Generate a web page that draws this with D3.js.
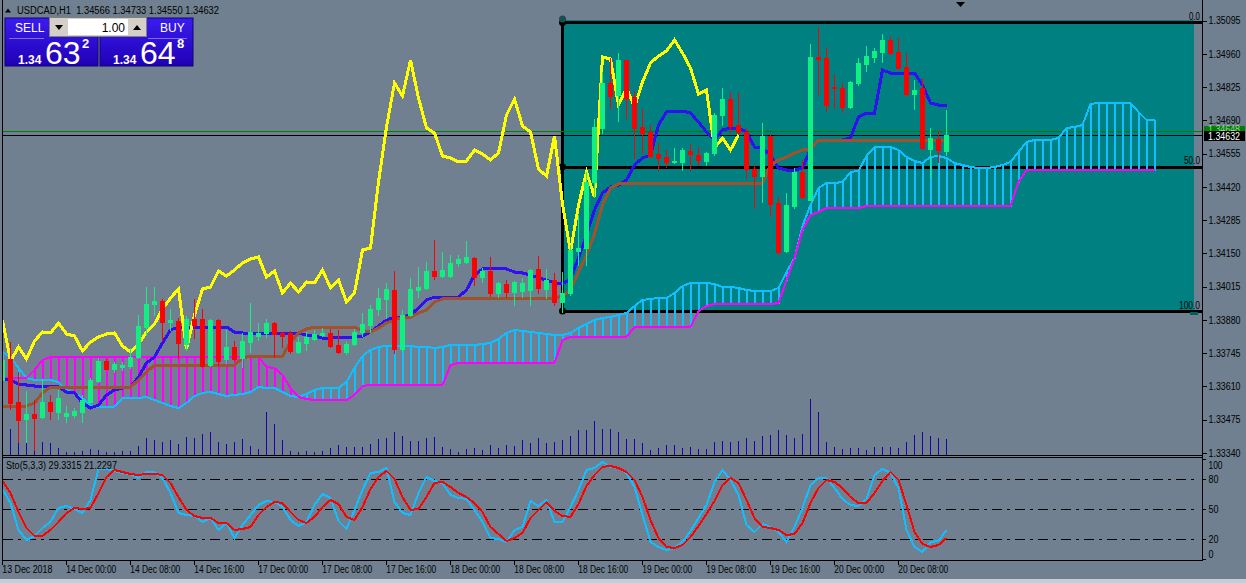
<!DOCTYPE html>
<html><head><meta charset="utf-8">
<script src="https://cdn.jsdelivr.net/npm/d3@7/dist/d3.min.js"></script>
<style>
html,body{margin:0;padding:0;background:#708090;overflow:hidden}
svg{display:block}
text{font-family:"Liberation Sans",Arial,sans-serif;font-size:10px;fill:#000}
</style></head><body>
<svg id="c" width="1246" height="583"></svg>
<script>
// ---------------- DATA ----------------
const symbolTitle = "USDCAD,H1  1.34566 1.34733 1.34550 1.34632";
const stochTitle = "Sto(5,3,3) 29.3315 21.2297";
const timeIdx = [0,8,16,24,32,40,48,56,64,72,80,88,96,104,112];
const timeLabels = ["13 Dec 2018","14 Dec 00:00","14 Dec 08:00","14 Dec 16:00","17 Dec 00:00","17 Dec 08:00","17 Dec 16:00","18 Dec 00:00","18 Dec 08:00","18 Dec 16:00","19 Dec 00:00","19 Dec 08:00","19 Dec 16:00","20 Dec 00:00","20 Dec 08:00"];
const priceTicks = [1.35095,1.34960,1.34825,1.34690,1.34555,1.34420,1.34285,1.34150,1.34015,1.33880,1.33745,1.33610,1.33475,1.33340];
const stochTicks = [100,80,50,20,0];
const stochLevels = [80,50,20];
const bidPrice = 1.34632, askPrice = 1.34648;
const fibLevels = [0,50,100];
const fibHigh = 1.35088, fibLow = 1.33916, fibStartBar = 70;
const rectTop = 1.35098, rectBottom = 1.33916, rectEndBar = 149;

const opens = [1.33636,1.33722,1.33547,1.33478,1.33498,1.33486,1.33547,1.33506,1.33490,1.33494,
1.33506,1.33547,1.33632,1.33713,1.33681,1.33689,1.33693,1.33730,1.33851,1.33945,
1.33957,1.33872,1.33876,1.33782,1.33884,1.33884,1.33697,1.33880,1.33722,1.33770,
1.33726,1.33790,1.33815,1.33827,1.33868,1.33827,1.33827,1.33750,1.33786,1.33803,
1.33819,1.33827,1.33778,1.33750,1.33782,1.33831,1.33859,1.33924,1.33965,1.34002,
1.33762,1.33900,1.34002,1.34010,1.34079,1.34058,1.34058,1.34111,1.34115,1.34132,
1.34054,1.34079,1.33989,1.34026,1.33993,1.33997,1.34002,1.34087,1.34006,1.34042,
1.33953,1.33989,1.34160,1.34172,1.34440,1.34659,1.34842,1.34793,1.34935,1.34785,
1.34663,1.34643,1.34554,1.34542,1.34521,1.34521,1.34566,1.34550,1.34525,1.34558,
1.34712,1.34777,1.34672,1.34643,1.34493,1.34464,1.34627,1.34355,1.34160,1.34343,
1.34481,1.34367,1.34948,1.34944,1.34826,1.34822,1.34745,1.34842,1.34919,1.34948,
1.34968,1.35017,1.34968,1.34907,1.34797,1.34822,1.34574,1.34615,1.34566];
const highs = [1.33750,1.33790,1.33669,1.33591,1.33555,1.33640,1.33575,1.33596,1.33531,1.33523,
1.33575,1.33644,1.33726,1.33722,1.33709,1.33709,1.33766,1.33900,1.34014,1.34014,
1.33965,1.33924,1.33888,1.33896,1.33965,1.33924,1.33884,1.33884,1.33839,1.33795,
1.33827,1.33949,1.33868,1.33884,1.33872,1.33831,1.33835,1.33811,1.33831,1.33839,
1.33847,1.33843,1.33839,1.33790,1.33843,1.33908,1.33941,1.34010,1.34030,1.34079,
1.33920,1.34050,1.34095,1.34115,1.34205,1.34156,1.34144,1.34144,1.34201,1.34136,
1.34091,1.34136,1.34034,1.34042,1.34038,1.34050,1.34087,1.34140,1.34087,1.34071,
1.34075,1.34184,1.34306,1.34481,1.34696,1.34887,1.34944,1.34964,1.34935,1.34810,
1.34737,1.34672,1.34598,1.34570,1.34578,1.34578,1.34594,1.34582,1.34562,1.34720,
1.34822,1.34806,1.34801,1.34659,1.34509,1.34680,1.34635,1.34379,1.34395,1.34497,
1.34529,1.35000,1.35069,1.34988,1.34879,1.34842,1.34850,1.34944,1.34992,1.34984,
1.35041,1.35033,1.35025,1.34964,1.34854,1.34862,1.34659,1.34647,1.34733];
const lows = [1.33596,1.33518,1.33384,1.33384,1.33352,1.33482,1.33478,1.33478,1.33466,1.33486,
1.33466,1.33543,1.33628,1.33681,1.33669,1.33677,1.33685,1.33726,1.33819,1.33900,
1.33799,1.33839,1.33726,1.33758,1.33807,1.33689,1.33693,1.33697,1.33705,1.33717,
1.33689,1.33750,1.33799,1.33811,1.33730,1.33770,1.33746,1.33746,1.33758,1.33799,
1.33815,1.33770,1.33746,1.33742,1.33778,1.33815,1.33831,1.33900,1.33888,1.33746,
1.33754,1.33896,1.33973,1.34006,1.34046,1.34054,1.34054,1.34099,1.34111,1.34022,
1.34034,1.33977,1.33973,1.33973,1.33941,1.33973,1.33941,1.33989,1.33969,1.33941,
1.33912,1.33981,1.34103,1.34103,1.34379,1.34639,1.34741,1.34688,1.34700,1.34538,
1.34558,1.34542,1.34489,1.34501,1.34517,1.34489,1.34489,1.34509,1.34509,1.34550,
1.34672,1.34643,1.34639,1.34456,1.34335,1.34359,1.34302,1.34148,1.34156,1.34335,
1.34375,1.34367,1.34797,1.34728,1.34741,1.34724,1.34741,1.34834,1.34891,1.34927,
1.34927,1.34960,1.34903,1.34793,1.34737,1.34574,1.34460,1.34521,1.34550];
const closes = [1.33717,1.33543,1.33474,1.33498,1.33482,1.33547,1.33510,1.33563,1.33502,1.33510,
1.33555,1.33636,1.33713,1.33681,1.33701,1.33697,1.33730,1.33855,1.33945,1.33957,
1.33872,1.33880,1.33786,1.33884,1.33859,1.33693,1.33880,1.33713,1.33770,1.33722,
1.33795,1.33831,1.33827,1.33868,1.33823,1.33815,1.33754,1.33790,1.33811,1.33823,
1.33827,1.33774,1.33750,1.33782,1.33831,1.33864,1.33924,1.33969,1.34006,1.33762,
1.33900,1.34006,1.34014,1.34079,1.34058,1.34083,1.34111,1.34128,1.34136,1.34054,
1.34079,1.33989,1.34030,1.33993,1.34034,1.34030,1.34083,1.34010,1.34042,1.33953,
1.33989,1.34164,1.34172,1.34440,1.34663,1.34842,1.34789,1.34935,1.34781,1.34659,
1.34639,1.34546,1.34538,1.34521,1.34525,1.34570,1.34554,1.34529,1.34558,1.34712,
1.34777,1.34667,1.34643,1.34493,1.34464,1.34627,1.34351,1.34156,1.34347,1.34481,
1.34379,1.34948,1.34940,1.34753,1.34822,1.34745,1.34846,1.34923,1.34952,1.34972,
1.35017,1.34964,1.34903,1.34797,1.34814,1.34578,1.34619,1.34570,1.34632];
const volumes = [2800,2600,1400,1300,1100,1300,1200,700,300,300,
400,600,500,300,300,400,400,900,1700,1500,
1300,1500,1100,1800,1700,2100,2300,1300,1100,1300,
1600,900,600,4300,3100,1500,400,300,400,300,
400,700,1000,800,800,800,1100,1600,1700,2300,
1900,1400,1400,1700,1800,800,600,300,600,700,
500,1000,700,1000,900,1500,1200,1700,1200,1300,
1500,1900,2500,2500,3400,2600,2600,2300,1600,1600,
1200,500,700,1000,1000,700,800,600,600,1300,
1400,1300,1400,1700,1400,1900,2000,2500,2000,1700,
2100,5600,4300,1300,800,600,700,700,500,800,
800,800,700,1300,2000,2300,1900,1700,1600];
const tenkan = [1.33640,1.33636,1.33620,1.33616,1.33612,1.33612,1.33612,1.33608,1.33588,1.33583,
1.33543,1.33523,1.33535,1.33575,1.33596,1.33604,1.33608,1.33648,1.33705,1.33730,
1.33786,1.33839,1.33851,1.33851,1.33851,1.33851,1.33851,1.33851,1.33851,1.33831,
1.33827,1.33827,1.33827,1.33827,1.33827,1.33827,1.33827,1.33827,1.33819,1.33815,
1.33807,1.33807,1.33811,1.33811,1.33811,1.33815,1.33831,1.33855,1.33880,1.33892,
1.33892,1.33900,1.33929,1.33961,1.33973,1.33973,1.33973,1.33973,1.34002,1.34063,
1.34087,1.34091,1.34091,1.34087,1.34075,1.34071,1.34063,1.34050,1.34042,1.34030,
1.34026,1.34046,1.34132,1.34225,1.34326,1.34395,1.34420,1.34428,1.34448,1.34509,
1.34538,1.34550,1.34672,1.34724,1.34728,1.34728,1.34720,1.34684,1.34643,1.34611,
1.34651,1.34659,1.34659,1.34643,1.34582,1.34578,1.34550,1.34497,1.34489,1.34489,
1.34497,1.34574,1.34611,1.34611,1.34611,1.34611,1.34619,1.34704,1.34720,1.34720,
1.34895,1.34883,1.34883,1.34883,1.34883,1.34834,1.34761,1.34753,1.34753];
const kijun = [1.33531,1.33531,1.33531,1.33531,1.33543,1.33583,1.33608,1.33608,1.33608,1.33608,
1.33608,1.33608,1.33608,1.33608,1.33608,1.33608,1.33608,1.33636,1.33669,1.33697,
1.33697,1.33697,1.33697,1.33697,1.33697,1.33697,1.33697,1.33697,1.33697,1.33697,
1.33726,1.33734,1.33734,1.33734,1.33734,1.33734,1.33790,1.33827,1.33843,1.33851,
1.33851,1.33851,1.33851,1.33851,1.33851,1.33835,1.33831,1.33847,1.33868,1.33880,
1.33892,1.33892,1.33908,1.33920,1.33953,1.33965,1.33969,1.33969,1.33969,1.33969,
1.33969,1.33969,1.33969,1.33969,1.33969,1.33969,1.33969,1.33969,1.33969,1.33969,
1.33977,1.34002,1.34075,1.34144,1.34229,1.34347,1.34416,1.34432,1.34436,1.34436,
1.34436,1.34436,1.34436,1.34436,1.34436,1.34436,1.34436,1.34436,1.34436,1.34436,
1.34436,1.34436,1.34436,1.34436,1.34436,1.34436,1.34509,1.34529,1.34542,1.34558,
1.34570,1.34574,1.34611,1.34611,1.34611,1.34611,1.34611,1.34611,1.34611,1.34611,
1.34611,1.34611,1.34611,1.34611,1.34611,1.34611,1.34611,1.34611,1.34611];
const spanA = [1.33750,1.33730,1.33685,1.33644,1.33636,1.33636,1.33636,1.33628,1.33596,1.33583,
1.33563,1.33535,1.33527,1.33527,1.33527,1.33563,1.33563,1.33563,1.33567,1.33555,
1.33543,1.33531,1.33523,1.33543,1.33571,1.33583,1.33588,1.33579,1.33571,1.33575,
1.33579,1.33588,1.33608,1.33604,1.33604,1.33588,1.33571,1.33567,1.33579,1.33596,
1.33604,1.33604,1.33604,1.33628,1.33685,1.33734,1.33758,1.33770,1.33774,1.33774,
1.33774,1.33774,1.33770,1.33770,1.33766,1.33770,1.33778,1.33778,1.33778,1.33778,
1.33782,1.33786,1.33803,1.33827,1.33839,1.33835,1.33831,1.33827,1.33823,1.33819,
1.33819,1.33827,1.33847,1.33864,1.33880,1.33888,1.33892,1.33900,1.33908,1.33937,
1.33961,1.33965,1.33969,1.33969,1.33989,1.34018,1.34030,1.34030,1.34030,1.34026,
1.34014,1.34014,1.34010,1.34002,1.33997,1.33997,1.33997,1.34010,1.34075,1.34132,
1.34261,1.34347,1.34416,1.34436,1.34436,1.34440,1.34481,1.34485,1.34546,1.34582,
1.34582,1.34582,1.34570,1.34542,1.34525,1.34517,1.34542,1.34546,1.34538,1.34517,
1.34509,1.34501,1.34497,1.34497,1.34501,1.34509,1.34521,1.34562,1.34602,1.34611,
1.34611,1.34611,1.34619,1.34659,1.34663,1.34672,1.34757,1.34761,1.34761,1.34761,
1.34761,1.34761,1.34724,1.34692,1.34692];
const spanB = [1.33644,1.33644,1.33644,1.33644,1.33677,1.33717,1.33730,1.33730,1.33730,1.33730,
1.33730,1.33730,1.33730,1.33730,1.33730,1.33730,1.33730,1.33730,1.33730,1.33730,
1.33730,1.33730,1.33730,1.33730,1.33730,1.33730,1.33730,1.33730,1.33730,1.33730,
1.33730,1.33730,1.33730,1.33689,1.33685,1.33657,1.33604,1.33567,1.33559,1.33555,
1.33555,1.33555,1.33555,1.33555,1.33575,1.33612,1.33616,1.33616,1.33616,1.33616,
1.33616,1.33616,1.33616,1.33616,1.33616,1.33616,1.33697,1.33705,1.33705,1.33705,
1.33705,1.33705,1.33705,1.33705,1.33705,1.33705,1.33705,1.33705,1.33705,1.33705,
1.33799,1.33811,1.33811,1.33811,1.33811,1.33811,1.33811,1.33811,1.33811,1.33851,
1.33851,1.33851,1.33851,1.33851,1.33851,1.33851,1.33851,1.33916,1.33937,1.33945,
1.33945,1.33945,1.33945,1.33945,1.33945,1.33945,1.33945,1.33949,1.34042,1.34132,
1.34245,1.34306,1.34318,1.34335,1.34335,1.34335,1.34335,1.34335,1.34343,1.34343,
1.34343,1.34343,1.34343,1.34343,1.34343,1.34343,1.34343,1.34343,1.34343,1.34343,
1.34343,1.34343,1.34343,1.34343,1.34343,1.34343,1.34343,1.34440,1.34489,1.34489,
1.34489,1.34489,1.34489,1.34489,1.34489,1.34489,1.34489,1.34489,1.34489,1.34489,
1.34489,1.34489,1.34489,1.34489,1.34489];
const chikou = [1.33880,1.33713,1.33770,1.33722,1.33795,1.33831,1.33827,1.33868,1.33823,1.33815,
1.33754,1.33790,1.33811,1.33823,1.33827,1.33774,1.33750,1.33782,1.33831,1.33864,
1.33924,1.33969,1.34006,1.33762,1.33900,1.34006,1.34014,1.34079,1.34058,1.34083,
1.34111,1.34128,1.34136,1.34054,1.34079,1.33989,1.34030,1.33993,1.34034,1.34030,
1.34083,1.34010,1.34042,1.33953,1.33989,1.34164,1.34172,1.34440,1.34663,1.34842,
1.34789,1.34935,1.34781,1.34659,1.34639,1.34546,1.34538,1.34521,1.34525,1.34570,
1.34554,1.34529,1.34558,1.34712,1.34777,1.34667,1.34643,1.34493,1.34464,1.34627,
1.34351,1.34156,1.34347,1.34481,1.34379,1.34948,1.34940,1.34753,1.34822,1.34745,
1.34846,1.34923,1.34952,1.34972,1.35017,1.34964,1.34903,1.34797,1.34814,1.34578,
1.34619,1.34570,1.34632];
const stochMain = [70,56,29,19,23,31,37,51,53,50,
46,59,90,90,88,86,85,81,87,87,
81,66,46,44,43,37,41,29,36,21,
34,44,54,58,57,52,39,33,37,54,
65,61,38,30,49,69,86,87,91,57,
46,44,66,82,78,76,64,61,60,49,
37,21,20,17,29,32,58,53,59,37,
37,52,69,89,91,97,92,91,86,72,
44,17,12,9,11,17,28,41,54,77,
89,79,64,34,27,35,32,27,17,32,
51,74,81,81,71,60,54,53,60,84,
90,86,71,29,12,7,17,18,29.33];
const stochSignal = [78,66,47,31,23,23,29,37,46,51,
50,51,66,82,89,87,85,84,85,85,
84,76,62,49,43,41,41,36,36,29,
30,32,44,52,57,56,47,39,36,42,
52,59,55,42,39,52,70,82,88,80,
62,49,50,62,76,77,72,66,62,56,
47,32,25,18,21,26,41,49,57,48,
43,42,55,73,84,92,93,91,87,79,
62,39,21,12,11,14,22,33,45,58,
74,81,76,59,41,32,31,29,24,25,
36,56,71,79,77,71,62,56,56,66,
78,87,79,54,27,15,12,14,21.23];

// ---------------- STYLE ----------------
const C = {bg:"#708090", teal:"#008080", bull:"#10f080", bear:"#ff0000", vol:"#1e00a8",
  tenkan:"#3010f0", kijun:"#a0522d", chikou:"#ffff00", spanA:"#10bfff", spanB:"#ff00ff",
  stMain:"#10bfff", stSig:"#ff0000"};

// ---------------- SCALES ----------------
const svg = d3.select("#c").attr("shape-rendering","crispEdges");
const x = d3.scaleLinear().domain([0,144]).range([2.3,1154.3]);
const y = d3.scaleLinear().domain([1.33340,1.35095]).range([453,20.7]);
const yv = d3.scaleLinear().domain([0,10000]).range([455,355]);
const ys = d3.scaleLinear().domain([0,100]).range([559.3,459.3]);
const px = k => Math.round(x(k));
const py = v => Math.round(y(v));
// target widths (px) of the terminal's narrow UI font
const fit = (sel, w) => sel.attr("textLength", w).attr("lengthAdjust","spacingAndGlyphs");

svg.append("rect").attr("width",1246).attr("height",583).attr("fill",C.bg);
svg.append("rect").attr("x",0).attr("y",579).attr("width",1246).attr("height",4).attr("fill","#c9cdd3");

const defs = svg.append("defs");
defs.append("clipPath").attr("id","cm").append("rect").attr("x",3).attr("y",0).attr("width",1199).attr("height",455);
defs.append("clipPath").attr("id","cs").append("rect").attr("x",3).attr("y",458).attr("width",1199).attr("height",102);
const gr = defs.append("linearGradient").attr("id","pg").attr("x1",0).attr("y1",0).attr("x2",0).attr("y2",1);
gr.append("stop").attr("offset","0").attr("stop-color","#3a1cf0");
gr.append("stop").attr("offset","1").attr("stop-color","#2000b4");

const main = svg.append("g").attr("clip-path","url(#cm)");

// teal rectangle object
main.append("rect").attr("x",px(fibStartBar)).attr("y",py(rectTop))
  .attr("width",px(rectEndBar)-px(fibStartBar)).attr("height",py(rectBottom)-py(rectTop)).attr("fill",C.teal);

// fibo levels
const fibY = l => y(fibHigh - (fibHigh-fibLow)*l/100);
main.selectAll("line.fib").data(fibLevels).join("line")
  .attr("x1",px(fibStartBar)).attr("x2",1202).attr("y1",d=>Math.round(fibY(d))).attr("y2",d=>Math.round(fibY(d)))
  .attr("stroke","#000").attr("stroke-width",3);
main.append("line").attr("x1",px(fibStartBar)+0.5).attr("x2",px(fibStartBar)+0.5)
  .attr("y1",py(rectTop)).attr("y2",Math.round(fibY(100))+1).attr("stroke","#000").attr("stroke-width",3);
main.selectAll("circle.fd").data([0,50,100]).join("circle")
  .attr("cx",px(fibStartBar)+0.5).attr("cy",d=>fibY(d)).attr("r",3.5).attr("fill","#000").attr("shape-rendering","auto");
main.append("circle").attr("cx",px(fibStartBar)+0.5).attr("cy",py(rectTop)-1).attr("r",3.5).attr("fill","#1b4f4f").attr("shape-rendering","auto");
main.append("rect").attr("x",px(rectEndBar)-4).attr("y",py(rectBottom)+1).attr("width",8).attr("height",3).attr("fill","#006060");
svg.selectAll("text.fl").data(fibLevels).join("text").attr("class","fl")
  .attr("x",1200).attr("y",d=>fibY(d)-2.5).attr("text-anchor","end").text(d=>d.toFixed(1))
  .attr("textLength",d=>d===0?11:(d===50?16:21)).attr("lengthAdjust","spacingAndGlyphs");

// bid/ask lines
main.append("line").attr("x1",3).attr("x2",1202).attr("y1",py(askPrice)+0.5).attr("y2",py(askPrice)+0.5).attr("stroke","#008000");
main.append("line").attr("x1",3).attr("x2",1202).attr("y1",py(bidPrice)+0.5).attr("y2",py(bidPrice)+0.5).attr("stroke","#000");

// kumo hatching
main.selectAll("rect.kumo").data(spanA.map((a,i)=>({i,a,b:spanB[i]}))).join("rect")
  .attr("x",d=>px(d.i)).attr("width",2)
  .attr("y",d=>Math.min(py(d.a),py(d.b))).attr("height",d=>Math.abs(py(d.a)-py(d.b))+1)
  .attr("fill",d=>d.a>=d.b?C.spanA:C.spanB);

const lineP = d3.line().x((d,i)=>px(i)+0.5).y(d=>py(d));
const drawLine = (arr,col,w) => main.append("path").attr("d",lineP(arr)).attr("fill","none")
  .attr("stroke",col).attr("stroke-width",w).attr("stroke-linejoin","miter");
drawLine(spanA,C.spanA,2);
drawLine(spanB,C.spanB,2);
drawLine(tenkan,C.tenkan,3);
drawLine(kijun,C.kijun,3);
drawLine(chikou,C.chikou,3);

// volumes
main.selectAll("line.vol").data(volumes).join("line")
  .attr("x1",(d,i)=>px(i)+0.5).attr("x2",(d,i)=>px(i)+0.5)
  .attr("y1",d=>Math.round(yv(d))).attr("y2",455).attr("stroke",C.vol);

// candles
const bars = opens.map((o,i)=>({i,o,h:highs[i],l:lows[i],c:closes[i]}));
const cg = main.append("g");
cg.selectAll("line.w").data(bars).join("line")
  .attr("x1",d=>px(d.i)+0.5).attr("x2",d=>px(d.i)+0.5)
  .attr("y1",d=>py(d.h)).attr("y2",d=>py(d.l)+1)
  .attr("stroke",d=>d.c>=d.o?C.bull:C.bear);
cg.selectAll("rect.b").data(bars).join("rect")
  .attr("x",d=>px(d.i)-2).attr("width",5)
  .attr("y",d=>py(Math.max(d.o,d.c)))
  .attr("height",d=>Math.max(1,Math.abs(py(d.o)-py(d.c))+1))
  .attr("fill",d=>d.c>=d.o?C.bull:C.bear);

// frames
svg.append("line").attr("x1",2.5).attr("x2",2.5).attr("y1",0).attr("y2",561).attr("stroke","#000");
svg.append("line").attr("x1",1202.5).attr("x2",1202.5).attr("y1",0).attr("y2",561).attr("stroke","#000");
svg.append("line").attr("x1",2).attr("x2",1203).attr("y1",455.5).attr("y2",455.5).attr("stroke","#000");
svg.append("line").attr("x1",2).attr("x2",1203).attr("y1",457.5).attr("y2",457.5).attr("stroke","#000");
svg.append("line").attr("x1",2).attr("x2",1203).attr("y1",560.5).attr("y2",560.5).attr("stroke","#000");
// chart shift marker
svg.append("path").attr("d","M956,2 L965,2 L960.5,7 Z").attr("fill","#000").attr("shape-rendering","auto");

// price axis
const pa = svg.append("g").attr("transform","translate(1202.5,0)")
  .call(d3.axisRight(y).tickValues(priceTicks).tickSize(4).tickPadding(2).tickFormat(d3.format(".5f")));
pa.select(".domain").remove();
pa.attr("font-size",null).attr("font-family",null).attr("color","#000");
fit(pa.selectAll(".tick text"), 32);

// price labels (ask/bid)
svg.append("rect").attr("x",1204).attr("y",py(askPrice)-5).attr("width",41).attr("height",11).attr("fill","#008000");
fit(svg.append("text").attr("x",1208).attr("y",py(askPrice)+2).style("fill","#9fd09f").text(d3.format(".5f")(askPrice)),32);
svg.append("rect").attr("x",1204).attr("y",py(bidPrice)-4).attr("width",41).attr("height",10).attr("fill","#000");
fit(svg.append("text").attr("x",1208).attr("y",py(bidPrice)+4.5).style("fill","#fff").text(d3.format(".5f")(bidPrice)),32);

// stochastic
const sg = svg.append("g").attr("clip-path","url(#cs)");
sg.selectAll("line.lv").data(stochLevels).join("line")
  .attr("x1",3).attr("x2",1197).attr("y1",d=>Math.round(ys(d))+0.5).attr("y2",d=>Math.round(ys(d))+0.5)
  .attr("stroke","#000").attr("stroke-dasharray","10,5,3,5");
const sLine = d3.line().x((d,i)=>px(i)+0.5).y(d=>Math.round(ys(d)));
sg.append("path").attr("d",sLine(stochMain)).attr("fill","none").attr("stroke",C.stMain).attr("stroke-width",2);
sg.append("path").attr("d",sLine(stochSignal)).attr("fill","none").attr("stroke",C.stSig).attr("stroke-width",2);
fit(svg.append("text").attr("x",6).attr("y",469).text(stochTitle), 111);
const sa = svg.append("g").attr("transform","translate(1202.5,0)")
  .call(d3.axisRight(ys).tickValues(stochTicks).tickSize(3).tickPadding(3));
sa.select(".domain").remove();
sa.attr("font-size",null).attr("font-family",null).attr("color","#000");
sa.selectAll(".tick text").attr("dy",d=>d===100?"0.95em":(d===0?"-0.2em":"0.32em"))
  .attr("textLength",d=>d===100?14:(d===0?5:10)).attr("lengthAdjust","spacingAndGlyphs");

// time axis
const ta = svg.append("g").attr("transform","translate(0,560.5)")
  .call(d3.axisBottom(x).tickValues(timeIdx).tickSize(4).tickPadding(1).tickFormat((d,i)=>timeLabels[i]));
ta.select(".domain").remove();
ta.attr("font-size",null).attr("font-family",null).attr("color","#000");
fit(ta.selectAll(".tick text").attr("text-anchor","start").attr("x",-0.5), 50);

// title
svg.append("path").attr("d","M5,12.5 L11,12.5 L8,8.5 Z").attr("fill","#000").attr("shape-rendering","auto");
fit(svg.append("text").attr("x",17).attr("y",14).attr("xml:space","preserve").text(symbolTitle), 202);

// one-click trading panel
const panel = svg.append("g").attr("shape-rendering","auto");
const box = (bx, label, lx, big, sup) => {
  panel.append("rect").attr("x",bx).attr("y",18).attr("width",93).attr("height",48).attr("fill","url(#pg)").attr("stroke","#14007a");
  panel.append("text").attr("x",lx).attr("y",32).style("fill","#fff").style("font-size","12px").text(label);
  panel.append("text").attr("x",bx+13).attr("y",63.5).style("fill","#fff").style("font-weight","bold").style("font-size","12px").text("1.34");
  panel.append("text").attr("x",bx+40).attr("y",64).style("fill","#fff").style("font-size","32px").text(big);
  panel.append("text").attr("x",bx+77).attr("y",48).style("fill","#fff").style("font-weight","bold").style("font-size","13px").text(sup);
};
box(5,"SELL",15,"63","2");
box(100,"BUY",160,"64","8");
panel.append("line").attr("x1",9).attr("x2",44).attr("y1",38.5).attr("y2",38.5).attr("stroke","#7a6cff");
panel.append("line").attr("x1",148).attr("x2",187).attr("y1",38.5).attr("y2",38.5).attr("stroke","#7a6cff");
// spinner
panel.append("rect").attr("x",49.5).attr("y",17.5).attr("width",97).attr("height",19).attr("fill","#d4d0c8").attr("stroke","#808080");
panel.append("rect").attr("x",68).attr("y",19).attr("width",60).attr("height",16).attr("fill","#fff");
panel.append("path").attr("d","M55,25 L63,25 L59,30 Z").attr("fill","#000");
panel.append("path").attr("d","M133,30 L141,30 L137,25 Z").attr("fill","#000");
panel.append("text").attr("x",125).attr("y",31.5).attr("text-anchor","end").style("font-size","12px").text("1.00");
</script>
</body></html>
